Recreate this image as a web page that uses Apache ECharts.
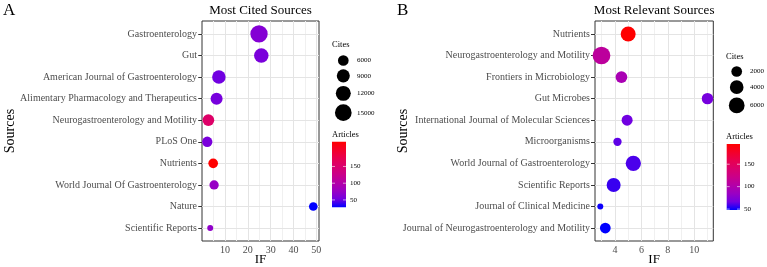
<!DOCTYPE html>
<html>
<head>
<meta charset="utf-8">
<script src="https://cdn.jsdelivr.net/npm/echarts@6/dist/echarts.min.js"></script>
<style>
  html, body { margin: 0; padding: 0; background: #fff; }
  #chart { width: 767px; height: 267px; }
</style>
</head>
<body>
<div id="chart"></div>
<script>
// panel A - most cited sources (top -> bottom)
const sourcesA = ['Gastroenterology', 'Gut', 'American Journal of Gastroenterology',
  'Alimentary Pharmacology and Therapeutics', 'Neurogastroenterology and Motility', 'PLoS One',
  'Nutrients', 'World Journal Of Gastroenterology', 'Nature', 'Scientific Reports']
const ifA = [24.9, 25.9, 7.3, 6.3, 2.7, 2.2, 4.8, 5.2, 48.7, 3.5]
const citesA = [16200, 11200, 9700, 7600, 7200, 5600, 4900, 4500, 3900, 1800]
const articlesA = [63, 57, 52, 55, 155, 57, 224, 75, 28, 71]
const ifTicksA = [10, 20, 30, 40, 50]
const ifMinorA = [5, 15, 25, 35, 45]
const citeBreaksA = [6000, 9000, 12000, 15000]

// panel B - most relevant sources
const sourcesB = ['Nutrients', 'Neurogastroenterology and Motility', 'Frontiers in Microbiology',
  'Gut Microbes', 'International Journal of Molecular Sciences', 'Microorganisms',
  'World Journal of Gastroenterology', 'Scientific Reports', 'Journal of Clinical Medicine',
  'Journal of Neurogastroenterology and Motility']
const ifB = [5.0, 2.98, 4.49, 11.0, 4.92, 4.19, 5.39, 3.9, 2.89, 3.27]
const citesB = [5200, 8400, 2600, 2400, 2150, 960, 5500, 4300, 380, 2000]
const articlesB = [195, 110, 95, 68, 66, 63, 60, 57, 50, 48]
const ifTicksB = [4, 6, 8, 10]
const ifMinorB = [3, 5, 7, 9, 11]
const citeBreaksB = [2000, 4000, 6000]

const articleTicks = [50, 100, 150]

// blue -> red, roughly the Lab path ggplot takes
const gradient = ['#0000FF', '#7300E0', '#9A00C3', '#B400A7', '#CA0089', '#DA006D', '#E8004F', '#F40029', '#FF0000']

const FONT = 'Liberation Serif'
const sizeA = c => 0.156 * Math.pow(c, 0.486)
const sizeB = c => 0.756 * Math.pow(c, 0.349)

const chart = echarts.init(document.getElementById('chart'))

// panel boxes
const boxA = {left: 202, top: 21, width: 117, height: 220, xMin: -0.1, xMax: 51.2}
const boxB = {left: 595, top: 21, width: 118.3, height: 220, xMin: 2.49, xMax: 11.44}

function grid(box) {
  return {left: box.left, top: box.top, width: box.width, height: box.height,
    outerBoundsMode: 'none', containLabel: false,
    show: true, borderColor: '#333', borderWidth: 1, backgroundColor: '#fff'}
}

function xAxis(gi, box, ticks) {
  return {
    gridIndex: gi, type: 'value', min: box.xMin, max: box.xMax, position: 'bottom',
    axisLine: {show: false},
    axisTick: {show: true, length: 4, lineStyle: {color: '#333'}, customValues: ticks},
    axisLabel: {customValues: ticks, margin: 4, fontFamily: FONT, fontSize: 10, color: '#4D4D4D'},
    splitLine: {show: false},
    name: 'IF', nameLocation: 'middle', nameGap: 12, nameMoveOverlap: false,
    nameTextStyle: {fontFamily: FONT, fontSize: 13, color: '#000'}
  }
}

function yAxis(gi, names) {
  const idx = names.map((n, i) => i)
  return {
    gridIndex: gi, type: 'value', min: -0.6, max: 9.6, inverse: true,
    axisLine: {show: false},
    axisTick: {show: true, length: 4, lineStyle: {color: '#333'}, customValues: idx},
    axisLabel: {customValues: idx, margin: 5, fontFamily: FONT, fontSize: 10, color: '#4D4D4D',
      formatter: v => names[Math.round(v)]},
    splitLine: {show: false},
    name: 'Sources', nameLocation: 'middle', nameGap: 185, nameMoveOverlap: false,
    nameTextStyle: {fontFamily: FONT, fontSize: 14, color: '#000'}
  }
}

// panel grid lines (ggplot theme_bw style) as markLines of an empty series, kept under the points
function gridLines(ax, names, majors, minors) {
  const minorStyle = {color: '#F0F0F0', width: 1, type: 'solid'}
  const data = minors.map(v => ({xAxis: v, lineStyle: minorStyle}))
    .concat(majors.map(v => ({xAxis: v})))
    .concat(names.map((n, i) => ({yAxis: i})))
  return {
    type: 'scatter', xAxisIndex: ax, yAxisIndex: ax, data: [], z: 1, silent: true,
    markLine: {z: 1, silent: true, symbol: 'none', animation: false, label: {show: false},
      lineStyle: {color: '#E4E4E4', width: 1, type: 'solid'}, data: data}
  }
}

function txt(x, y, s, size, align) {
  return {type: 'text', x: x, y: y, style: {text: s, fontFamily: FONT, fontSize: size,
    fill: '#000', align: align || 'left', verticalAlign: 'middle'}}
}

// size legend + colour bar drawn as graphics
function legendGraphics(L, sizeFn, breaks, aMin, aMax) {
  const g = []
  g.push(txt(L.titleX, L.citesY, 'Cites', 8.5))
  let y = L.firstY
  breaks.forEach((c, i) => {
    const d = sizeFn(c)
    if (i > 0) y += (sizeFn(breaks[i - 1]) + d) / 2 + 3.5
    g.push({type: 'circle', shape: {cx: L.circleX, cy: y, r: d / 2}, style: {fill: '#000'}})
    g.push(txt(L.labelX, y, String(c), 7))
  })
  g.push(txt(L.titleX, L.articlesY, 'Articles', 8.5))
  const stops = gradient.map((c, i) => ({offset: i / (gradient.length - 1), color: c}))
  g.push({type: 'rect', shape: {x: L.barX, y: L.barY, width: L.barW, height: L.barH},
    style: {fill: new echarts.graphic.LinearGradient(0, 1, 0, 0, stops)}})
  articleTicks.forEach(v => {
    const ty = L.barY + (aMax - v) / (aMax - aMin) * L.barH
    g.push({type: 'line', shape: {x1: L.barX, y1: ty, x2: L.barX + 3, y2: ty}, style: {stroke: '#fff', lineWidth: 0.6}})
    g.push({type: 'line', shape: {x1: L.barX + L.barW - 3, y1: ty, x2: L.barX + L.barW, y2: ty}, style: {stroke: '#fff', lineWidth: 0.6}})
    g.push(txt(L.barX + L.barW + 4, ty, String(v), 7))
  })
  return g
}

const rangeA = [28, 224]
const rangeB = [48, 195]

const graphics = [
  txt(3, 11, 'A', 17),
  txt(397, 11, 'B', 17),
  txt(boxA.left + boxA.width / 2, 11, 'Most Cited Sources', 13, 'center'),
  txt(boxB.left + boxB.width / 2, 11, 'Most Relevant Sources', 13, 'center')
].concat(
  legendGraphics({titleX: 332, citesY: 45, firstY: 60.5, circleX: 343.3, labelX: 357,
    articlesY: 135, barX: 332, barY: 141.7, barW: 14, barH: 65.6}, sizeA, citeBreaksA, rangeA[0], rangeA[1]),
  legendGraphics({titleX: 726, citesY: 57, firstY: 71.5, circleX: 736.7, labelX: 750,
    articlesY: 137, barX: 726.7, barY: 144, barW: 13.3, barH: 66}, sizeB, citeBreaksB, rangeB[0], rangeB[1])
)

chart.setOption({
  backgroundColor: '#fff',
  animation: false,
  grid: [grid(boxA), grid(boxB)],
  xAxis: [xAxis(0, boxA, ifTicksA), xAxis(1, boxB, ifTicksB)],
  yAxis: [yAxis(0, sourcesA), yAxis(1, sourcesB)],
  visualMap: [
    {type: 'continuous', seriesIndex: 0, dimension: 3, min: rangeA[0], max: rangeA[1], inRange: {color: gradient}, show: false},
    {type: 'continuous', seriesIndex: 1, dimension: 3, min: rangeB[0], max: rangeB[1], inRange: {color: gradient}, show: false}
  ],
  series: [
    {
      type: 'scatter', xAxisIndex: 0, yAxisIndex: 0, z: 10,
      data: ifA.map((v, i) => [v, i, citesA[i], articlesA[i]]),
      symbolSize: val => sizeA(val[2]),
      itemStyle: {opacity: 1}
    },
    {
      type: 'scatter', xAxisIndex: 1, yAxisIndex: 1, z: 10,
      data: ifB.map((v, i) => [v, i, citesB[i], articlesB[i]]),
      symbolSize: val => sizeB(val[2]),
      itemStyle: {opacity: 1}
    },
    gridLines(0, sourcesA, ifTicksA, ifMinorA),
    gridLines(1, sourcesB, ifTicksB, ifMinorB)
  ],
  graphic: graphics
})
</script>
</body>
</html>
